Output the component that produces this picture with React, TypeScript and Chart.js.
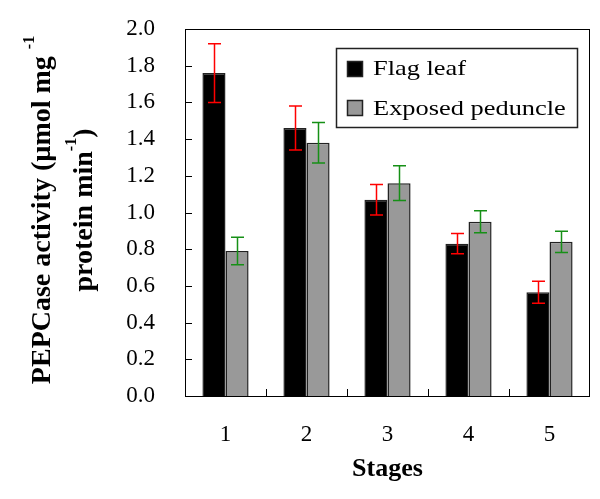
import React, { useEffect, useRef } from 'react';
import { Chart, registerables } from 'chart.js';

Chart.register(...registerables);

const stages = ['1', '2', '3', '4', '5'];
const flagLeaf = [1.76, 1.46, 1.07, 0.83, 0.565];
const flagLeafErr = [0.16, 0.12, 0.083, 0.055, 0.06];
const peduncle = [0.79, 1.38, 1.16, 0.95, 0.84];
const peduncleErr = [0.075, 0.11, 0.095, 0.06, 0.058];
const seriesLabels = ['Flag leaf', 'Exposed peduncle'];
const errorColors = ['#ff0000', '#169016'];
const yTitleLine1 = 'PEPCase activity (µmol mg';
const yTitleLine2 = 'protein min';
const supText = '-1';

const SERIF = '"Liberation Serif", "Times New Roman", serif';

const framePlugin = {
  id: 'frame',
  afterDraw(chart: any) {
    const { ctx, chartArea: a, scales } = chart;
    ctx.save();
    ctx.strokeStyle = '#000';
    ctx.lineWidth = 1;
    ctx.strokeRect(Math.round(a.left) + 0.5, Math.round(a.top) + 0.5, Math.round(a.right - a.left) - 1, Math.round(a.bottom - a.top));
    const y = scales.y;
    y.ticks.forEach((t: any) => {
      const py = Math.round(y.getPixelForValue(t.value)) + 0.5;
      ctx.beginPath();
      ctx.moveTo(a.left, py);
      ctx.lineTo(a.left + 7, py);
      ctx.stroke();
    });
    const x = scales.x;
    for (let i = 1; i < stages.length; i++) {
      const px = Math.round((x.getPixelForValue(i - 1) + x.getPixelForValue(i)) / 2) + 0.5;
      ctx.beginPath();
      ctx.moveTo(px, a.bottom);
      ctx.lineTo(px, a.bottom - 7);
      ctx.stroke();
    }
    ctx.restore();
  },
};

const errorBarPlugin = {
  id: 'errorBars',
  afterDatasetsDraw(chart: any) {
    const { ctx, scales } = chart;
    const errs = [flagLeafErr, peduncleErr];
    ctx.save();
    ctx.lineWidth = 1.5;
    chart.data.datasets.forEach((ds: any, di: number) => {
      const meta = chart.getDatasetMeta(di);
      ctx.strokeStyle = errorColors[di];
      meta.data.forEach((bar: any, i: number) => {
        const v = ds.data[i];
        const e = errs[di][i];
        const x = Math.round(bar.x) + 0.5;
        const yt = scales.y.getPixelForValue(v + e);
        const yb = scales.y.getPixelForValue(v - e);
        const hw = 6.5;
        ctx.beginPath();
        ctx.moveTo(x, yt);
        ctx.lineTo(x, yb);
        ctx.moveTo(x - hw, yt);
        ctx.lineTo(x + hw, yt);
        ctx.moveTo(x - hw, yb);
        ctx.lineTo(x + hw, yb);
        ctx.stroke();
      });
    });
    ctx.restore();
  },
};

const legendPlugin = {
  id: 'boxLegend',
  afterDraw(chart: any) {
    const { ctx } = chart;
    ctx.save();
    ctx.strokeStyle = '#222';
    ctx.lineWidth = 1.5;
    ctx.fillStyle = '#fff';
    ctx.fillRect(336, 48, 241, 79);
    ctx.strokeRect(336.5, 48.5, 241, 79);
    chart.data.datasets.forEach((ds: any, i: number) => {
      const top = 61 + i * 39;
      ctx.fillStyle = ds.backgroundColor;
      ctx.fillRect(347, top, 16, 16);
      ctx.strokeStyle = '#222';
      ctx.lineWidth = 1.5;
      ctx.strokeRect(347.5, top + 0.5, 15, 15);
      ctx.save();
      ctx.translate(373, 75 + i * 40);
      ctx.scale(1.2, 1);
      ctx.fillStyle = '#000';
      ctx.font = `22px ${SERIF}`;
      ctx.textBaseline = 'alphabetic';
      ctx.textAlign = 'left';
      ctx.fillText(ds.label, 0, 0);
      ctx.restore();
    });
    ctx.restore();
  },
};

const yTitlePlugin = {
  id: 'yTitle',
  afterDraw(chart: any) {
    const { ctx } = chart;
    const mainFont = `bold 28px ${SERIF}`;
    const supFont = `bold 16px ${SERIF}`;
    const lines = [
      { base: 50, segs: [{ t: yTitleLine1 + ' ', s: false }, { t: supText, s: true }] },
      { base: 92, segs: [{ t: yTitleLine2, s: false }, { t: supText, s: true }, { t: ')', s: false }] },
    ];
    const cy = 210;
    ctx.save();
    ctx.fillStyle = '#000';
    ctx.textBaseline = 'alphabetic';
    ctx.textAlign = 'left';
    lines.forEach((ln) => {
      let total = 0;
      ln.segs.forEach((sg) => {
        ctx.font = sg.s ? supFont : mainFont;
        total += ctx.measureText(sg.t).width;
      });
      ctx.save();
      ctx.translate(ln.base, cy);
      ctx.rotate(-Math.PI / 2);
      let x = -total / 2;
      ln.segs.forEach((sg) => {
        ctx.font = sg.s ? supFont : mainFont;
        ctx.fillText(sg.t, x, sg.s ? -16 : 0);
        x += ctx.measureText(sg.t).width;
      });
      ctx.restore();
    });
    ctx.restore();
  },
};

export default function App() {
  const ref = useRef<HTMLCanvasElement>(null);
  useEffect(() => {
    document.body.style.margin = '0';
    const chart = new Chart(ref.current as HTMLCanvasElement, {
      type: 'bar',
      data: {
        labels: stages,
        datasets: [
          {
            label: seriesLabels[0],
            data: flagLeaf,
            backgroundColor: '#000000',
            borderColor: '#222222',
            borderWidth: 1.5,
            categoryPercentage: 0.57,
            barPercentage: 1.0,
          },
          {
            label: seriesLabels[1],
            data: peduncle,
            backgroundColor: '#999999',
            borderColor: '#222222',
            borderWidth: 1.5,
            categoryPercentage: 0.57,
            barPercentage: 1.0,
          },
        ],
      },
      options: {
        responsive: false,
        animation: false,
        devicePixelRatio: 1,
        layout: { padding: { top: 29, right: 10, left: 0, bottom: 0 } },
        plugins: { legend: { display: false }, tooltip: { enabled: false } },
        scales: {
          x: {
            grid: { display: false, drawTicks: true, tickLength: 21 },
            border: { display: false },
            ticks: { color: '#000', font: { family: SERIF, size: 23 }, padding: 4 },
            title: {
              display: true,
              text: 'Stages',
              color: '#000',
              font: { family: SERIF, size: 26, weight: 'bold' },
              padding: { top: 0, bottom: 14 },
            },
            afterFit: (s: any) => { s.height = 103; },
          },
          y: {
            min: 0,
            max: 2,
            grid: { display: false, drawTicks: true, tickLength: 26 },
            border: { display: false },
            ticks: {
              stepSize: 0.2,
              color: '#000',
              font: { family: SERIF, size: 23 },
              padding: 4,
              callback: (v: any) => Number(v).toFixed(1),
            },
            afterFit: (s: any) => { s.width = 185; },
          },
        },
      } as any,
      plugins: [errorBarPlugin, framePlugin, legendPlugin, yTitlePlugin],
    });
    return () => chart.destroy();
  }, []);
  return <canvas ref={ref} width={600} height={499} style={{ display: 'block', width: 600, height: 499 }} />;
}
